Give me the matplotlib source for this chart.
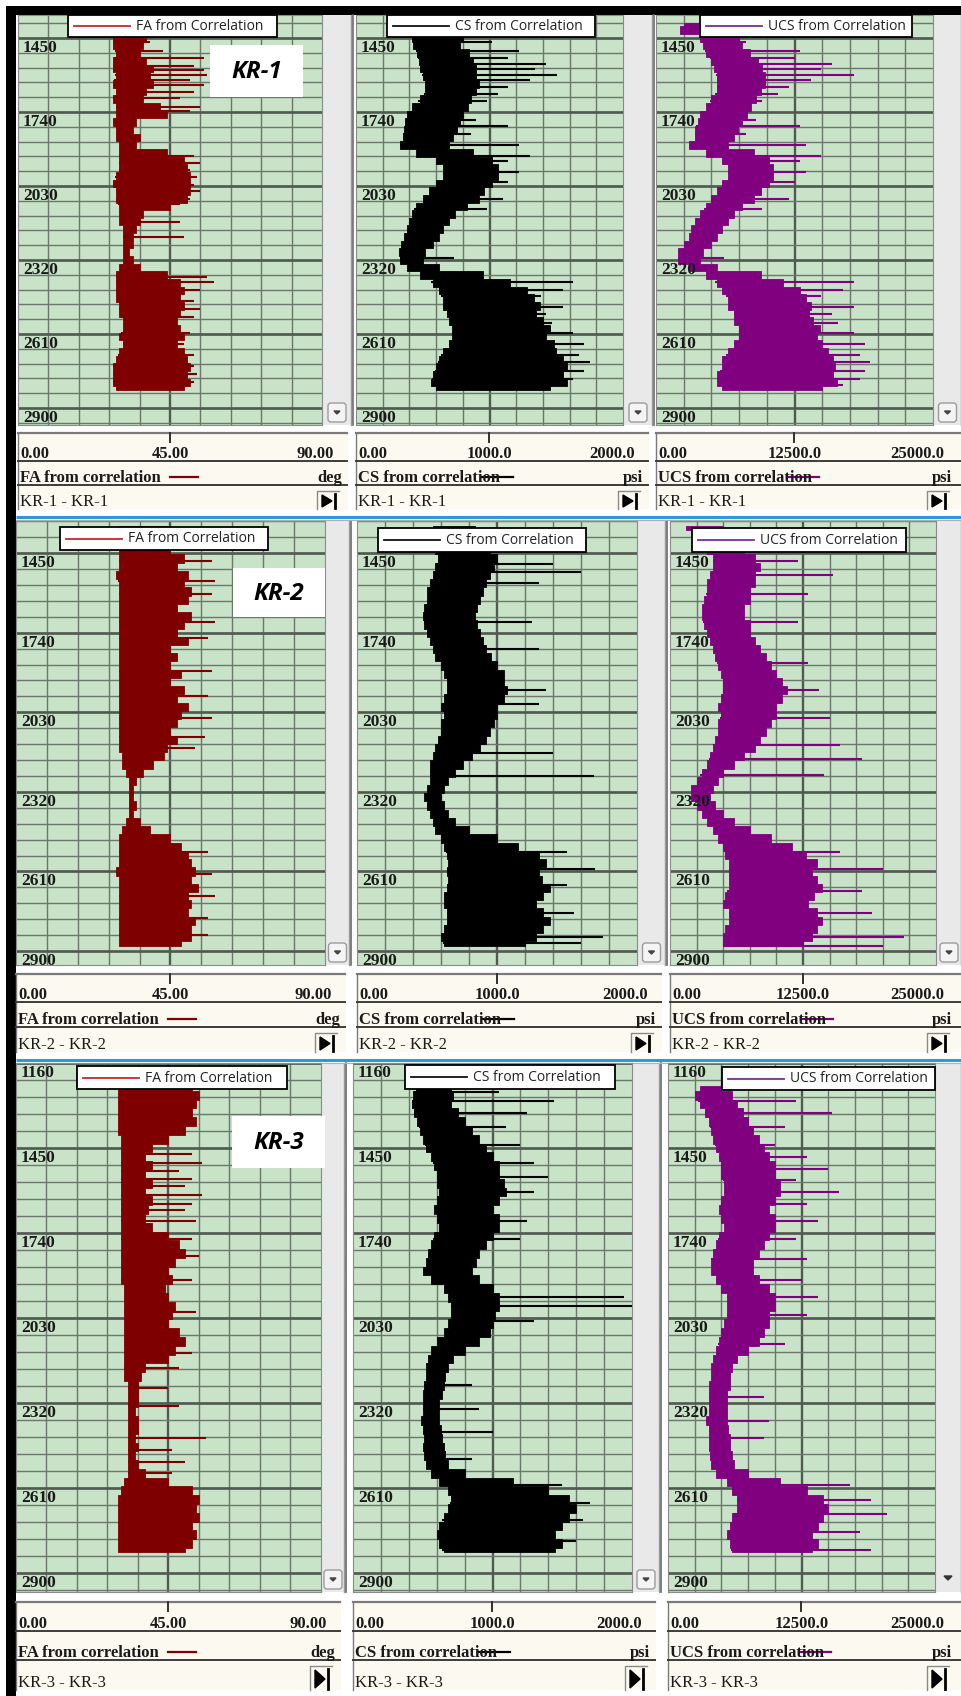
import numpy as np
import matplotlib
matplotlib.use("Agg")
import matplotlib.pyplot as plt
from matplotlib.patches import Rectangle, Polygon, FancyBboxPatch

# ---------------------------------------------------------------- data
wells = ["KR-1", "KR-2", "KR-3"]
legend_titles = ["FA from Correlation", "CS from Correlation", "UCS from Correlation"]
scale_titles = ["FA from correlation", "CS from correlation", "UCS from correlation"]
units = ["deg", "psi", "psi"]
scale_max = [90.0, 2000.0, 25000.0]
scale_ticks = [["0.00", "45.00", "90.00"],
               ["0.00", "1000.0", "2000.0"],
               ["0.00", "12500.0", "25000.0"]]
depth_labels = [[1450, 1740, 2030, 2320, 2610, 2900],
                [1450, 1740, 2030, 2320, 2610, 2900],
                [1160, 1450, 1740, 2030, 2320, 2610, 2900]]

# KR-1 (sampling depths every 30 ft)
kr1_depth = np.arange(1390, 2831, 30)
kr1_fa_lo = [29,29,28,28,29, 28,28,29,28,29, 28,29,29,28,29, 29,30,30,30,30, 29,28,29,29,30,
             30,30,31,31,31, 31,31,30,29,29, 29,29,30,30,31, 31,30,31,30,29, 28,28,28,29]
kr1_fa_hi = [36,37,38,37,36, 38,40,39,40,38, 37,42,44,35,34, 36,35,44,49,50, 51,51,51,50,45,
             37,36,35,34,34, 33,34,36,44,48, 49,48,49,48,47, 48,49,47,49,50, 51,50,51,49]
kr1_fa_spk_d = [1467,1501,1530,1560,1577,1594,1615,1636,1661,1687,1720,1737,1911,1940,1966,1995,
                2025,2050,2080,2101,2173,2230,2388,2405,2439,2481,2511,2545,2608,2650,2693,2735,
                2769,2798]
kr1_fa_spk_v = [39,43,55,52,55,56,51,55,52,48,54,51,52,54,51,53,52,54,51,48,48,49,56,58,54,52,
                54,52,51,49,52,52,53,52]

kr1_cs_lo = [450,420,420,430,460, 470,480,500,520,520, 480,420,380,370,360, 350,330,450,600,650,
             650,600,550,500,450, 420,400,380,360,340, 320,330,380,480,580, 620,650,650,680,700,
             720,720,700,650,620, 600,580,560,600]
kr1_cs_hi = [700,750,800,780,850, 880,900,900,920,900, 860,840,800,780,760, 730,700,880,1020,1060,
             1060,1020,960,920,830, 740,700,650,620,580, 520,500,620,950,1150, 1280,1330,1380,1350,1400,
             1450,1420,1480,1500,1550, 1580,1550,1580,1450]
kr1_cs_spk_d = [1467,1501,1530,1551,1573,1594,1615,1644,1670,1699,1771,1797,1826,1868,1911,1932,
                1974,2016,2080,2122,2312,2405,2439,2460,2503,2532,2566,2608,2650,2693,2722,2756,
                2786,2811]
kr1_cs_spk_v = [1020,1223,1142,1425,1344,1507,1304,1142,1061,980,900,1142,859,1223,1304,1142,
                1223,1142,1102,980,737,1628,1547,1385,1547,1426,1466,1628,1709,1669,1750,1709,
                1628,1547]

kr1_ucs_lo = [2500,2200,4000,4200,4500, 5000,5200,5500,5500,5500, 5000,4500,4000,3800,3500,
              3500,3000,4500,6000,6500, 6500,6000,5500,5000,4500, 4000,3500,3200,3000,2500,
              2000,2000,3000,4500,5500, 6000,6500,6500,7000,7000, 7500,7500,7000,6500,6000,
              6000,5500,5500,6000]
kr1_ucs_hi = [5000,4500,7500,7800,8500, 9200,9600,9800,9800,9500, 9000,8600,8200,7800,7400,
              7000,6500,8800,10200,10600, 10600,10200,9500,8800,7800, 7000,6500,6000,5500,5000,
              4200,4000,5500,9500,11500, 13000,13500,14000,13800,14200, 14800,14500,15000,15500,16000,
              16200,16000,16300,15000]
kr1_ucs_spk_d = [1467,1501,1530,1551,1573,1594,1615,1644,1670,1699,1771,1797,1826,1868,1911,1932,
                 1974,2016,2080,2122,2312,2405,2439,2460,2503,2532,2566,2608,2650,2693,2722,2756,
                 2786,2811]
kr1_ucs_spk_v = [8100,13000,12500,15900,14900,17900,14000,12000,11000,9600,9000,13000,8100,13500,
                 14900,13000,13500,12500,12000,9600,6100,17900,16900,14900,17900,15900,16400,17900,
                 18900,18400,19300,18900,18400,16900]

# KR-2
kr2_depth = np.arange(1350, 2881, 30)
kr2_fa_lo = [30,30,30,30,30, 30,29,30,30,30, 30,30,30,30,30, 30,30,30,30,30, 30,30,30,30,30,
             30,30,30,31,31, 32,33,33,33,33, 33,32,31,30,30, 30,30,29,30,30, 30,30,30,30,30, 30,30]
kr2_fa_hi = [44,46,48,45,49, 47,50,49,51,50, 47,51,49,47,50, 45,47,45,48,45, 49,47,50,48,47,
             45,47,44,43,40, 37,35,34,34,35, 34,36,39,45,48, 50,51,52,51,53, 50,51,50,52,51, 51,48]
kr2_fa_spk_d = [1400,1480,1550,1600,1700,1760,1880,1970,2050,2120,2160,2540,2620,2700,2780,2840]
kr2_fa_spk_v = [55,57,58,57,58,56,57,56,57,55,52,56,57,58,56,56]

kr2_cs_lo = [540,520,550,560,580, 560,540,520,500,500, 480,470,480,500,520, 540,560,600,620,640,
             640,620,600,620,600, 600,580,560,540,520, 520,520,500,480,500, 520,540,560,600,620,
             640,650,640,650,640, 620,620,640,640,620, 600,620]
kr2_cs_hi = [840,850,900,950,1000, 980,950,920,900,880, 860,840,860,880,900, 920,960,1000,1050,1050,
             1070,1050,1000,1000,980, 950,920,880,820,760, 700,650,620,600,620, 650,700,800,1000,1150,
             1300,1350,1300,1320,1380, 1330,1280,1330,1380,1330, 1280,1200]
kr2_cs_spk_d = [1490,1520,1560,1700,1800,1950,2000,2180,2262,2540,2600,2660,2760,2850,2870]
kr2_cs_spk_v = [1400,1600,1300,1250,1300,1350,1300,1400,1690,1500,1700,1500,1550,1760,1600]

kr2_ucs_lo = [1500,3000,3500,3500,4000, 4000,3800,3500,3500,3200, 3000,3000,3200,3500,3800,
              4000,4200,4500,4800,5000, 5000,4800,4500,4800,4500, 4500,4200,4000,3800,3500,
              3000,2500,2000,2000,2500, 3000,3500,4000,4500,5000, 5200,5500,5500,5500,5500,
              5200,5000,5500,5500,5200, 5000,5000]
kr2_ucs_hi = [5000,6000,6500,7000,8000, 8500,8000,8000,7500,7500, 7000,7000,7500,7500,8000,
              8500,9000,9500,10000,10500, 11000,10500,10000,10000,9500, 9000,8500,8000,7000,6000,
              5000,4500,4000,3800,4200, 5000,6000,7500,9500,11500, 12800,13800,13300,13800,14300,
              13500,13000,13800,14300,13800, 13300,12500]
kr2_ucs_spk_d = [1480,1530,1600,1700,1850,1950,2050,2150,2200,2260,2540,2600,2680,2760,2850,2880]
kr2_ucs_spk_v = [12000,15300,13000,12000,13000,14000,15000,16000,18000,14500,16000,20000,18000,
                 19000,22000,20000]

# KR-3
kr3_depth = np.arange(1240, 2831, 30)
kr3_fa_lo = [30,30,30,30,30, 30,31,31,31,31, 31,31,31,31,31, 31,31,31,31,31, 31,31,31,32,32,
             32,32,32,32,32, 32,32,32,32,33, 33,33,33,33,33, 33,33,33,33,33, 32,31,30,30,30,
             30,30,30,30]
kr3_fa_hi = [52,54,53,52,53, 50,45,40,38,40, 38,40,38,40,39, 38,40,45,48,50, 47,45,46,44,45,
             47,46,45,48,50, 47,45,38,37,36, 36,36,35,36,36, 35,36,35,36,38, 45,52,54,53,54,
             52,53,52,50]
kr3_fa_spk_d = [1470,1500,1530,1555,1580,1610,1640,1660,1700,1760,1820,1900,2010,2150,2200,2270,
                2330,2440,2480,2520,2560]
kr3_fa_spk_v = [52,55,48,52,50,55,52,50,53,52,54,52,53,52,48,45,48,56,46,50,46]

kr3_cs_lo = [450,430,420,440,460, 480,500,520,560,580, 600,600,620,600,580, 600,620,580,560,540,
             520,500,560,650,680, 700,700,680,650,600, 560,540,520,520,510, 500,500,500,490,500,
             510,500,510,520,560, 620,680,700,680,650, 620,600,620,650]
kr3_cs_hi = [700,720,700,750,800, 850,900,950,1000,1050, 1050,1080,1100,1050,1000, 1050,1050,1000,950,900,
             880,850,900,1000,1050, 1050,1020,1000,980,900, 800,720,680,660,650, 640,620,620,620,630,
             640,650,660,680,800, 1150,1400,1550,1600,1550, 1500,1450,1500,1450]
kr3_cs_spk_d = [1260,1290,1330,1380,1440,1500,1550,1600,1700,1760,1960,1990,2040,2260,2340,2420,
                2510,2600,2660,2720,2790,2820]
kr3_cs_spk_v = [1050,1440,1250,1100,1200,1300,1400,1300,1250,1200,1940,2000,1300,850,900,1000,
                850,1500,1700,1650,1600,1450]

kr3_ucs_lo = [3000,2500,3000,3500,3800, 4000,4200,4500,4800,5000, 5000,5200,5200,5000,4800,
              5000,5200,4800,4500,4200, 4000,4000,4500,5000,5500, 5500,5500,5200,5000,4800,
              4500,4200,4000,4000,3800, 3800,3800,3800,3600,3800, 3800,3800,3900,4000,4500,
              5500,6000,6500,6500,6000, 5800,5500,5800,6000]
kr3_ucs_hi = [5000,6000,6500,7000,7500, 8000,8500,9000,9500,10000, 10000,10500,10500,10000,9500,
              10000,10000,9500,9000,8500, 8000,8000,8500,9500,10000, 10000,9500,9500,9000,8500,
              7500,6500,6000,5800,5800, 5500,5500,5500,5500,5600, 5800,5800,6000,6200,7500,
              10500,13000,14500,15000,14500, 14000,13500,14000,13500]
kr3_ucs_spk_d = [1290,1330,1380,1440,1480,1520,1560,1600,1640,1700,1760,1830,1900,1960,2020,2120,
                 2300,2380,2440,2600,2650,2700,2760,2820]
kr3_ucs_spk_v = [12000,15400,11000,10000,13000,15000,12000,16000,13000,14000,12000,13000,12500,
                 14000,13000,11000,9000,9500,9000,17000,19000,20500,18000,19000]

tracks = [
    [(kr1_depth, kr1_fa_lo, kr1_fa_hi, kr1_fa_spk_d, kr1_fa_spk_v),
     (kr1_depth, kr1_cs_lo, kr1_cs_hi, kr1_cs_spk_d, kr1_cs_spk_v),
     (kr1_depth, kr1_ucs_lo, kr1_ucs_hi, kr1_ucs_spk_d, kr1_ucs_spk_v)],
    [(kr2_depth, kr2_fa_lo, kr2_fa_hi, kr2_fa_spk_d, kr2_fa_spk_v),
     (kr2_depth, kr2_cs_lo, kr2_cs_hi, kr2_cs_spk_d, kr2_cs_spk_v),
     (kr2_depth, kr2_ucs_lo, kr2_ucs_hi, kr2_ucs_spk_d, kr2_ucs_spk_v)],
    [(kr3_depth, kr3_fa_lo, kr3_fa_hi, kr3_fa_spk_d, kr3_fa_spk_v),
     (kr3_depth, kr3_cs_lo, kr3_cs_hi, kr3_cs_spk_d, kr3_cs_spk_v),
     (kr3_depth, kr3_ucs_lo, kr3_ucs_hi, kr3_ucs_spk_d, kr3_ucs_spk_v)],
]

# ---------------------------------------------------------------- layout (pixels)
W, H = 962, 1696
ROW_GREEN_Y = [(15, 425), (521, 965), (1063, 1592)]
ROW_DEPTH_LIM = [(1360, 2967), (1333, 2951), (1160, 2965)]
ROW_COLS = [[(18, 322, 352), (356, 623, 653), (656, 933, 962)],
            [(16, 325, 350), (357, 637, 666), (670, 936, 962)],
            [(16, 321, 345), (353, 632, 660), (668, 935, 962)]]
ROW_BOX = [(433, 461, 485, 509), (974, 1002, 1027, 1052), (1602, 1631, 1660, 1690)]
LEGEND_BOX = [[(68, 277, 15, 37), (387, 595, 15, 37), (700, 912, 15, 37)],
              [(60, 268, 527, 550), (378, 586, 528, 552), (692, 906, 528, 552)],
              [(77, 287, 1066, 1089), (405, 615, 1065, 1089), (722, 935, 1067, 1090)]]
KR_BOX = [(210, 303, 45, 97), (233, 325, 568, 617), (232, 325, 1116, 1168)]
BLUE_Y = [517, 1060]
TITLE_LINE_OFF = [(152, 180), (126, 157), (131, 163)]

SERIF = ["Liberation Serif", "DejaVu Serif"]
SANS = ["Open Sans", "DejaVu Sans"]
GREEN = "#c8e3c7"
GRID = "#6c776c"
GRID_MAJ = "#505a50"
COLORS = ["#7f0000", "#000000", "#800080"]
LEG_COLORS = ["#c8282e", "#111111", "#7b2f8f"]
TXT = "#1a1a1a"

fig = plt.figure(figsize=(W / 100, H / 100), dpi=100)
fig.patch.set_facecolor("white")


def pax(x0, y0, x1, y1, z):
    return fig.add_axes([x0 / W, 1 - y1 / H, (x1 - x0) / W, (y1 - y0) / H], zorder=z)


bg = pax(0, 0, W, H, 0)
bg.set_xlim(0, W); bg.set_ylim(H, 0); bg.axis("off")
ov = pax(0, 0, W, H, 10)
ov.set_xlim(0, W); ov.set_ylim(H, 0); ov.axis("off")

# outer black frame
bg.add_patch(Rectangle((6, 6), W - 6, 9, color="black", lw=0))
bg.add_patch(Rectangle((6, 6), 10, H - 6, color="black", lw=0))

for r in range(3):
    gy0, gy1 = ROW_GREEN_Y[r]
    dtop, dbot = ROW_DEPTH_LIM[r]
    by0, bnum, btit, by1 = ROW_BOX[r]
    for c in range(3):
        gx0, gx1, sx1 = ROW_COLS[r][c]
        # scroll strip
        bg.add_patch(Rectangle((gx1, gy0), sx1 - gx1, gy1 - gy0, color="#e9e9e9", lw=0))
        bg.plot([sx1 - 1, sx1 - 1], [gy0, gy1], color="#9a9a9a", lw=1.0)
        # scroll button
        if r == 2 and c == 2:
            ov.add_patch(Polygon([[gx1 + 9, gy1 - 16], [gx1 + 17, gy1 - 16], [gx1 + 13, gy1 - 12]],
                                 closed=True, color="#333333"))
        else:
            bx = gx1 + (sx1 - gx1) / 2 - 9
            ov.add_patch(FancyBboxPatch((bx, gy1 - 22), 18, 19, boxstyle="round,pad=0,rounding_size=3",
                                        fc="#f4f4f4", ec="#9c9c9c", lw=1.0))
            ov.add_patch(Polygon([[bx + 6, gy1 - 14], [bx + 12, gy1 - 14], [bx + 9, gy1 - 11]],
                                 closed=True, color="#444444"))

        # ---- track
        ax = pax(gx0, gy0, gx1, gy1, 5)
        ax.set_facecolor(GREEN)
        xmax = scale_max[c]
        ax.set_xlim(0, xmax)
        ax.set_ylim(dbot, dtop)
        ax.set_xticks([]); ax.set_yticks([])
        for sp in ax.spines.values():
            sp.set_color("#8a8a8a"); sp.set_linewidth(0.8)
        for k in range(1, 10):
            ax.axvline(xmax * k / 10, color=GRID_MAJ if k == 5 else GRID,
                       lw=1.7 if k == 5 else 1.0, zorder=1)
        labs = depth_labels[r]
        for dd in np.arange(labs[0] - 5 * 58, labs[-1] + 5 * 58, 58):
            ax.axhline(dd, color=GRID, lw=1.0, zorder=1)
        for dd in labs:
            ax.axhline(dd, color=GRID_MAJ, lw=1.9, zorder=1)
        d, lo, hi, sd, sv = tracks[r][c]
        ax.fill_betweenx(d, lo, hi, step="mid", color=COLORS[c], lw=0.6, zorder=3)
        base = np.interp(sd, d, lo)
        ax.hlines(sd, base, sv, color=COLORS[c], lw=1.5, zorder=3)
        for dd in labs:
            ax.annotate(str(dd), xy=(0, dd), xycoords=("axes fraction", "data"),
                        xytext=(5, -2), textcoords="offset pixels", ha="left", va="top",
                        fontsize=12.5, fontweight="bold", family=SERIF, color=TXT, zorder=6)

        # ---- legend box
        lx0, lx1, ly0, ly1 = LEGEND_BOX[r][c]
        ov.add_patch(Rectangle((lx0, ly0), lx1 - lx0, ly1 - ly0, fc="white", ec="black", lw=1.3))
        ym = (ly0 + ly1) / 2
        ov.plot([lx0 + 6, lx0 + 62], [ym, ym], color=LEG_COLORS[c], lw=1.3)
        ov.text(lx0 + 68, ym + 0.5, legend_titles[c], ha="left", va="center",
                fontsize=10, family=SANS, color="#222222")

        # ---- scale box
        bx1 = sx1 - 5 if c < 2 else W
        ov.add_patch(Rectangle((gx0, by0), sx1 - gx0 - (4 if c < 2 else 0), by1 - by0,
                               fc="#fcfaf0", ec="none"))
        ov.plot([gx0, bx1], [by0, by0], color="#7a7a7a", lw=1.6)
        ov.plot([gx0, gx0], [by0, by1], color="#7a7a7a", lw=1.0)
        ov.plot([gx0, bx1], [bnum, bnum], color="#3c3c3c", lw=1.4)
        ov.plot([gx0, bx1], [btit, btit], color="#3c3c3c", lw=1.4)
        xc = (gx0 + gx1) / 2
        ov.plot([xc, xc], [by0, by0 + 9], color="#303030", lw=1.4)
        tk = scale_ticks[c]
        ov.text(gx0 + 2, bnum - 3, tk[0], ha="left", va="baseline", fontsize=12,
                fontweight="bold", family=SERIF, color=TXT)
        ov.text(xc, bnum - 3, tk[1], ha="center", va="baseline", fontsize=12,
                fontweight="bold", family=SERIF, color=TXT)
        ov.text(sx1 - 18, bnum - 3, tk[2], ha="right", va="baseline", fontsize=12,
                fontweight="bold", family=SERIF, color=TXT)
        ov.text(gx0 + 2, btit - 3, scale_titles[c], ha="left", va="baseline", fontsize=12,
                fontweight="bold", family=SERIF, color=TXT)
        t0, t1 = TITLE_LINE_OFF[c]
        ov.plot([gx0 + t0, gx0 + t1], [btit - 8, btit - 8], color=COLORS[c], lw=1.6)
        ov.text(sx1 - 10, btit - 3, units[c], ha="right", va="baseline", fontsize=12,
                fontweight="bold", family=SERIF, color=TXT)
        ov.text(gx0 + 2, by1 - 3, f"{wells[r]} - {wells[r]}", ha="left", va="baseline",
                fontsize=12, family=SERIF, color=TXT)
        # play button
        px0 = sx1 - 35
        ov.plot([px0, px0, px0 + 22], [by1, btit + 6, btit + 6], color="#8a8a8a", lw=1.0)
        ov.add_patch(Polygon([[px0 + 5, btit + 10], [px0 + 5, by1 - 2], [px0 + 15, (btit + 10 + by1 - 2) / 2]],
                             closed=True, color="black"))
        ov.plot([px0 + 18, px0 + 18], [btit + 9, by1 - 1], color="black", lw=2.0)

    # column separators
    for c in range(2):
        sx1 = ROW_COLS[r][c][2]
        bg.plot([sx1 + 1, sx1 + 1], [gy0, gy1], color="#6a6a6a", lw=1.2)

    # well label box
    kx0, kx1, ky0, ky1 = KR_BOX[r]
    ov.add_patch(Rectangle((kx0, ky0), kx1 - kx0, ky1 - ky0, fc="white", ec="none"))
    ov.text((kx0 + kx1) / 2, (ky0 + ky1) / 2 + 1, wells[r], ha="center", va="center",
            fontsize=17.5, fontweight="bold", fontstyle="italic", family=SANS, color="black")

for yb in BLUE_Y:
    bg.plot([16, W], [yb, yb], color="#2b9bd6", lw=2.2, solid_capstyle="butt")
    bg.plot([16, W], [yb + 3, yb + 3], color="#b0b0b0", lw=0.8)

fig.savefig("out.png", dpi=100, facecolor="white")
